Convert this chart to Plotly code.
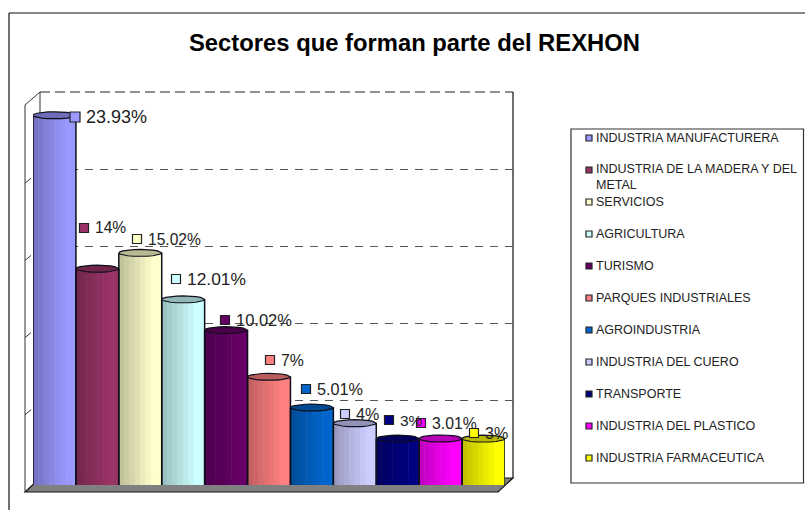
import plotly.graph_objects as go
import math

TITLE = "Sectores que forman parte del REXHON"
CATEGORIES = ["INDUSTRIA MANUFACTURERA", "INDUSTRIA DE LA MADERA Y DEL<br>METAL", "SERVICIOS",
              "AGRICULTURA", "TURISMO", "PARQUES INDUSTRIALES", "AGROINDUSTRIA",
              "INDUSTRIA DEL CUERO", "TRANSPORTE", "INDUSTRIA DEL PLASTICO", "INDUSTRIA FARMACEUTICA"]
VALUES = [23.93, 14, 15.02, 12.01, 10.02, 7, 5.01, 4, 3, 3.01, 3]
COLORS = ["#9999FF", "#993366", "#FFFFCC", "#CCFFFF", "#660066", "#FF8080",
          "#0066CC", "#CCCCFF", "#000080", "#FF00FF", "#FFFF00"]

# layout constants (pixels in the 805x510 page)
W, H = 805, 510
LABEL_PX = [(75, 117), (84, 228), (137, 239), (176, 279), (225, 320), (270, 360),
            (306, 389), (345, 414), (389, 420), (421, 423), (474, 433)]
LABEL_SIZE = [18, 15.6, 15.6, 17.4, 16.5, 15.8, 16.2, 16, 15.5, 15.8, 16]
KEY_SIZE = [10, 9, 9, 9, 9, 9, 9, 9, 9, 9, 9]
LEGEND_Y = [138, 170, 202, 234, 266, 298, 330, 362, 394, 426, 458]
STRIP_SHADE = [0.76, 0.80, 0.84, 0.88, 0.92, 0.96, 1.0, 1.0]
CAP_PX = 3.5
Y_PX_PER_UNIT = 77.25 / 5


def px(x):
    return x / W


def py(y):
    return 1 - y / H


def shade(hexcolor, f):
    r, g, b = (int(hexcolor[k:k + 2], 16) for k in (1, 3, 5))
    return f"rgb({round(r * f)},{round(g * f)},{round(b * f)})"


def poly(points, **kw):
    path = "M " + " L ".join(f"{px(a):.5f},{py(b):.5f}" for a, b in points) + " Z"
    return dict(type="path", xref="paper", yref="paper", path=path, layer="below", **kw)


def seg(x0, y0, x1, y1, color="#333", width=1, dash="solid"):
    return dict(type="line", xref="paper", yref="paper", layer="below",
                x0=px(x0), y0=py(y0), x1=px(x1), y1=py(y1),
                line=dict(color=color, width=width, dash=dash))


fig = go.Figure()

# back wall grid subplot
fig.add_trace(go.Scatter(x=[0], y=[0], mode="markers", marker=dict(opacity=0), xaxis="x", yaxis="y",
                         showlegend=False, hoverinfo="skip"))

cap_units = CAP_PX / Y_PX_PER_UNIT
n = len(STRIP_SHADE)
for i, (name, v, c) in enumerate(zip(CATEGORIES, VALUES, COLORS)):
    xs, ys, bases, cols = [], [], [], []
    for k, f in enumerate(STRIP_SHADE):
        u = (k + 0.5) / n - 0.5
        d = cap_units * math.sqrt(max(0, 1 - (2 * u) ** 2))
        xs.append(i + u)
        ys.append(v + d)
        bases.append(-d)
        cols.append(shade(c, f))
    fig.add_trace(go.Bar(x=xs, y=ys, base=bases, width=[1 / n + 0.012] * n,
                         marker=dict(color=cols, line=dict(width=0)),
                         xaxis="x2", yaxis="y2", name=name.replace("<br>", " "),
                         showlegend=False, hoverinfo="skip"))
    angles = [math.pi * j / 10 for j in range(0, 21)]
    # outline: sides + lower arc
    ox = [i - 0.5] + [i - 0.5 * math.cos(a) for a in angles[:11]] + [i + 0.5, i + 0.5]
    oy = [v] + [-cap_units * math.sin(a) for a in angles[:11]] + [0, v]
    fig.add_trace(go.Scatter(x=ox, y=oy, mode="lines", line=dict(color="#10101c", width=1.5),
                             xaxis="x2", yaxis="y2", showlegend=False, hoverinfo="skip"))
    # top cap
    tx = [i - 0.5 * math.cos(a) for a in angles]
    ty = [v + cap_units * math.sin(a) for a in angles]
    fig.add_trace(go.Scatter(x=tx, y=ty, mode="lines", fill="toself", fillcolor=shade(c, 0.72),
                             line=dict(color="#10101c", width=1.2),
                             xaxis="x2", yaxis="y2", showlegend=False, hoverinfo="skip"))

# data label keys and legend keys
fig.add_trace(go.Scatter(x=[p[0] for p in LABEL_PX], y=[p[1] for p in LABEL_PX], mode="markers",
                         marker=dict(symbol="square", size=KEY_SIZE, color=COLORS, opacity=1,
                                     line=dict(color="#222", width=1.2)),
                         xaxis="x3", yaxis="y3", showlegend=False, hoverinfo="skip"))
fig.add_trace(go.Scatter(x=[589] * len(LEGEND_Y), y=LEGEND_Y, mode="markers",
                         marker=dict(symbol="square", size=6, color=COLORS, opacity=1,
                                     line=dict(color="#222", width=1.2)),
                         xaxis="x3", yaxis="y3", showlegend=False, hoverinfo="skip"))

annotations = [dict(text=f"<b>{TITLE}</b>", x=px(414.5), y=py(42), xref="paper", yref="paper",
                    xanchor="center", yanchor="middle", showarrow=False,
                    font=dict(family="Liberation Sans", size=23.8, color="#000"))]
for (lx, ly), v, s in zip(LABEL_PX, VALUES, LABEL_SIZE):
    annotations.append(dict(text=f"{v:g}%", x=px(lx + 9), y=py(ly), xref="paper", yref="paper",
                            xanchor="left", yanchor="middle", showarrow=False,
                            font=dict(family="Liberation Sans", size=s, color="#222")))
for name, ly in zip(CATEGORIES, LEGEND_Y):
    two = "<br>" in name
    annotations.append(dict(text=name, x=px(594), y=py(ly + (7 if two else 0)), xref="paper", yref="paper",
                            xanchor="left", yanchor="middle", align="left", showarrow=False,
                            font=dict(family="Liberation Sans", size=12.5, color="#222")))

shapes = [
    seg(9, 13, 805, 13, color="#111", width=1.2),
    seg(9, 13, 9, 510, color="#111", width=1.2),
    dict(type="rect", xref="paper", yref="paper", layer="below", x0=px(571), y0=py(129), x1=px(803.5), y1=py(483),
         line=dict(color="#333", width=1.2), fillcolor="white"),
    poly([(25, 492), (40, 478), (513, 478), (498, 492)], fillcolor="#808080", line=dict(color="#111", width=1.2)),
    seg(25, 105, 40, 92), seg(25, 105, 25, 492), seg(40, 92, 40, 478), seg(513, 92, 513, 478, color="#333", width=1.4),
    seg(40, 92, 513, 92, color="#222", width=1.2, dash="10px,5px"),
]
for k in range(1, 5):
    yy = 492 - 77.2 * k
    shapes.append(seg(25, yy, 31, yy - 5))

axis_off = dict(visible=False, fixedrange=True)
fig.update_layout(
    width=W, height=H, autosize=False, margin=dict(l=0, r=0, t=0, b=0),
    paper_bgcolor="white", plot_bgcolor="rgba(0,0,0,0)", barmode="overlay", showlegend=False,
    xaxis=dict(domain=[px(40), px(513)], range=[0, 1], showticklabels=False, ticks="", showgrid=False,
               zeroline=False, showline=False, fixedrange=True),
    yaxis=dict(domain=[py(478), py(92)], range=[0, 25], dtick=5, showticklabels=False, ticks="",
               showgrid=True, gridcolor="#555", griddash="8px,7px", gridwidth=1.3, zeroline=False, fixedrange=True),
    xaxis2=dict(axis_off, domain=[px(33), px(505)], range=[-0.5, 10.5], anchor="y2"),
    yaxis2=dict(axis_off, domain=[py(485), py(485 - 25 * Y_PX_PER_UNIT)], range=[0, 25], anchor="x2"),
    xaxis3=dict(axis_off, domain=[0, 1], range=[0, W], anchor="y3"),
    yaxis3=dict(axis_off, domain=[0, 1], range=[H, 0], anchor="x3"),
    shapes=shapes, annotations=annotations,
)

fig.write_html("out.html", config={"displayModeBar": False},
               post_script="document.body.style.margin='0';document.body.style.overflow='hidden';")
